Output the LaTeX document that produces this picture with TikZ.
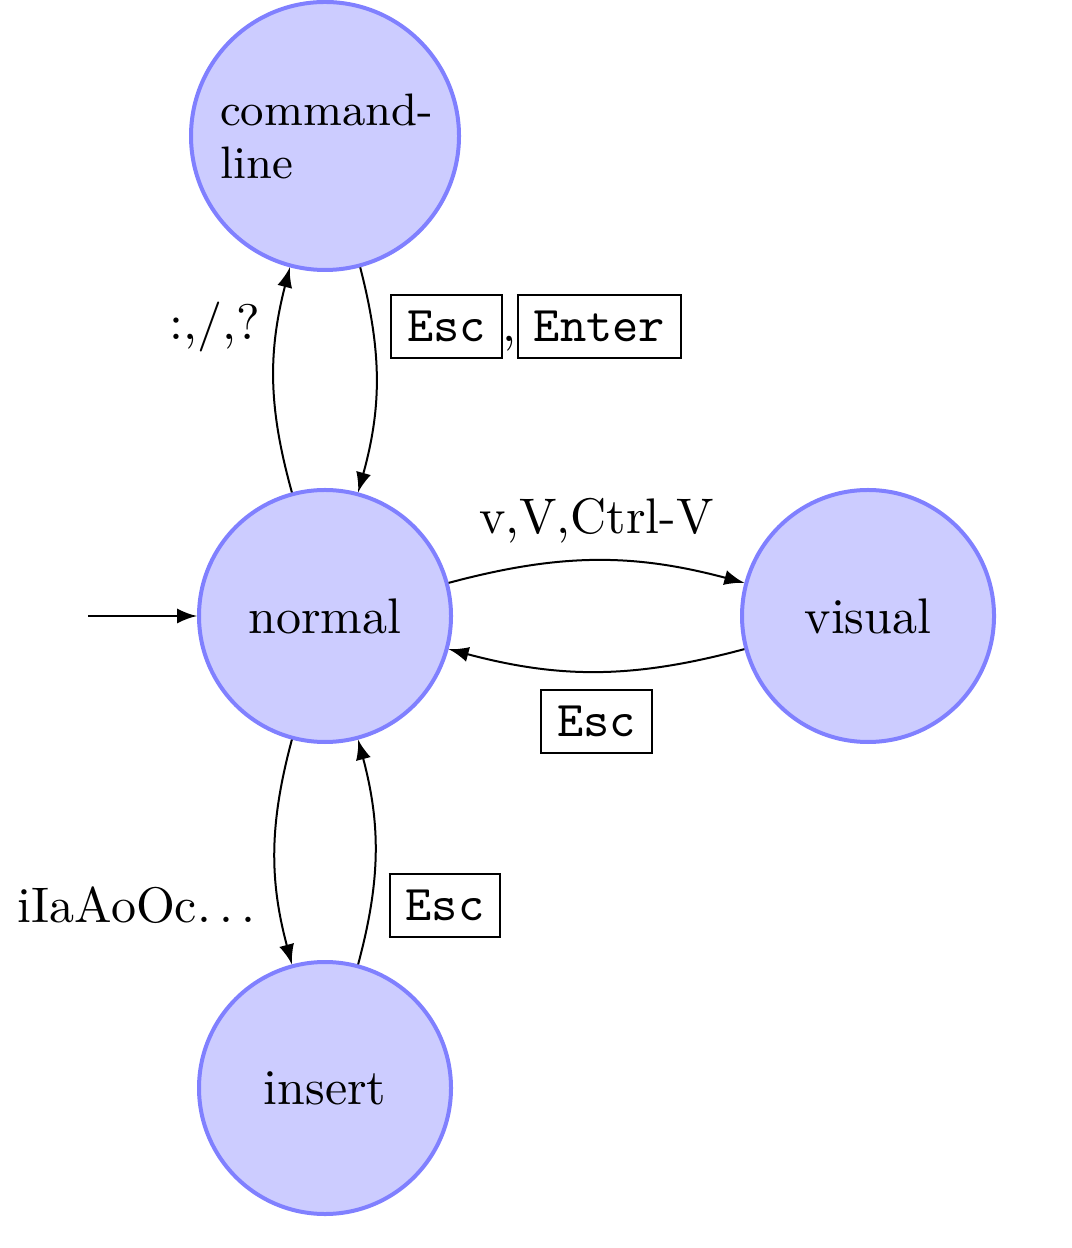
\documentclass[tikz,border=0pt]{standalone}
\usetikzlibrary{arrows}
\begin{document}
\begin{tikzpicture}[x=0.2pt,y=0.2pt,>=latex,
  stnode/.style={circle,draw=blue!50,fill=blue!20,thick,minimum size=50.4pt,inner sep=0pt},
  trans/.style={->,auto}]
\useasboundingbox (0,0) rectangle (1071,-1248);
\node[stnode,minimum size=53.6pt,text width=42pt,align=left,font=\fontsize{9.1}{10.6}\selectfont] (cmd) at (325,-136) {command-line};
\node[stnode] (normal) at (325,-616) {normal};
\node[stnode] (visual) at (868,-616) {visual};
\node[stnode] (insert) at (325,-1088) {insert};
\coordinate (init) at (88,-616);
\draw[->] (init) -- (normal);
\draw[trans] (normal) to[bend left=15] node[pos=0.75,anchor=east] {:,/,?} (cmd);
\draw[trans] (cmd) to[bend left=15] node[pos=0.25,anchor=west] {\fbox{\texttt{Esc}},\fbox{\texttt{Enter}}} (normal);
\draw[trans] (normal) to[bend left=15] node {v,V,Ctrl-V} (visual);
\draw[trans] (visual) to[bend left=15] node {\fbox{\texttt{Esc}}} (normal);
\draw[trans] (normal) to[bend right=15] node[pos=0.75,anchor=east,xshift=-1.2pt] {iIaAoOc$\ldots$} (insert);
\draw[trans] (insert) to[bend right=15] node[pos=0.25,anchor=west] {\fbox{\texttt{Esc}}} (normal);
\end{tikzpicture}
\end{document}
